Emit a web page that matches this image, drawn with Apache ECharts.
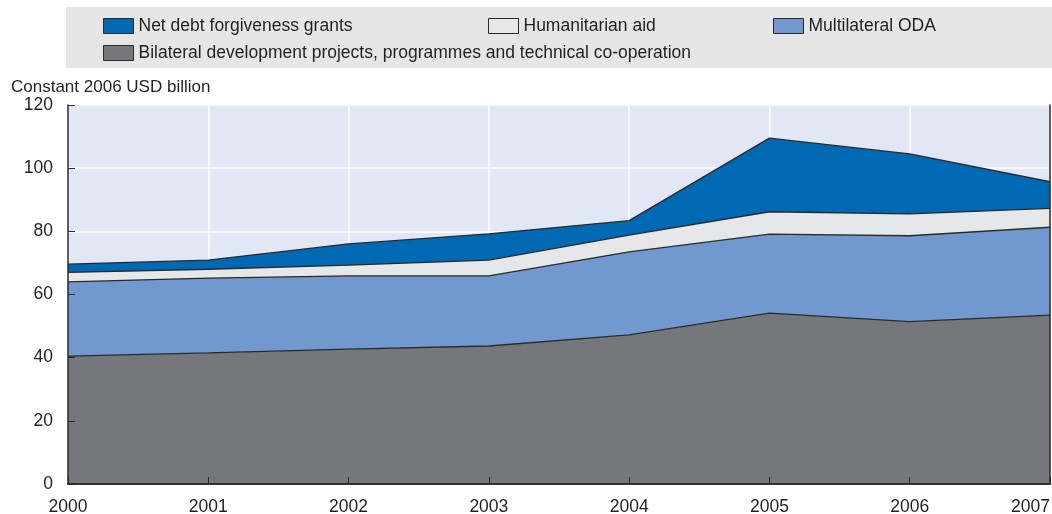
<!DOCTYPE html>
<html>
<head>
<meta charset="utf-8">
<script src="https://cdn.jsdelivr.net/npm/echarts@6/dist/echarts.min.js"></script>
<style>html,body{margin:0;padding:0;background:#fff}#c{width:1052px;height:514px}</style>
</head>
<body>
<div id="c"></div>
<script>
var years = ['2000','2001','2002','2003','2004','2005','2006','2007'];
var bilateral = [40.5, 41.5, 42.7, 43.7, 47.2, 54.1, 51.4, 53.5];
var multilateral = [23.5, 23.7, 23.2, 22.2, 26.3, 25.0, 27.2, 27.8];
var humanitarian = [3.0, 2.8, 3.4, 5.0, 5.3, 7.1, 6.9, 6.0];
var netDebt = [2.6, 2.9, 6.7, 8.3, 4.6, 23.3, 19.0, 8.4];
var yTicks = [0, 20, 40, 60, 80, 100, 120];

var names = {
  debt: 'Net debt forgiveness grants',
  hum: 'Humanitarian aid',
  multi: 'Multilateral ODA',
  bil: 'Bilateral development projects, programmes and technical co-operation'
};
var colors = { debt: '#0069b4', hum: '#e6e7e9', multi: '#7299cf', bil: '#76777b' };
var FONT = 'Liberation Sans, Arial, sans-serif';
var TXT = '#231f20';
var DARK = '#2a2a2a';

function mk(key, data) {
  return {
    name: names[key], type: 'line', stack: 'total', data: data,
    xAxisIndex: 0, yAxisIndex: 0,
    symbol: 'none', smooth: false, z: 3,
    lineStyle: { color: DARK, width: 1.3 },
    itemStyle: { color: colors[key], borderColor: DARK, borderWidth: 1 },
    areaStyle: { color: colors[key], opacity: 1 },
    emphasis: { disabled: true }
  };
}
function lg(key, left, top) {
  return {
    data: [names[key]], left: left, top: top, orient: 'horizontal',
    icon: 'rect', itemWidth: 30, itemHeight: 15, itemGap: 12,
    itemStyle: { borderColor: DARK, borderWidth: 1 },
    textStyle: { fontFamily: FONT, fontSize: 17.5, color: TXT },
    selectedMode: false
  };
}
var yBase = { type: 'value', min: yTicks[0], max: yTicks[yTicks.length - 1], interval: 20 };

var chart = echarts.init(document.getElementById('c'), null, { renderer: 'canvas' });
chart.setOption({
  animation: false,
  backgroundColor: '#ffffff',
  graphic: [{
    type: 'rect', left: 66, top: 7, z: -10,
    shape: { width: 986, height: 61 },
    style: { fill: '#e6e6e6' }
  }],
  title: {
    text: 'Constant 2006 USD billion', left: 6, top: 74,
    textStyle: { fontFamily: FONT, fontSize: 17, fontWeight: 'normal', color: TXT }
  },
  legend: [
    lg('debt', 98, 12),
    lg('hum', 483, 12),
    lg('multi', 768, 12),
    lg('bil', 98, 39)
  ],
  grid: {
    left: 68, right: 2, top: 105, bottom: 30,
    containLabel: false, outerBoundsMode: 'none',
    show: true, backgroundColor: '#e1e7f5', borderWidth: 0
  },
  xAxis: [{
    type: 'category', data: years, boundaryGap: false, z: 1,
    axisLine: { show: false }, axisTick: { show: false }, axisLabel: { show: false },
    splitLine: { show: true, lineStyle: { color: '#ffffff', width: 1.5 } }
  }, {
    type: 'category', data: years, boundaryGap: false, position: 'bottom', z: 10,
    axisLine: { show: true, lineStyle: { color: DARK, width: 1.5 } },
    axisTick: { show: true, inside: true, length: 7, lineStyle: { color: DARK, width: 1 } },
    axisLabel: { fontFamily: FONT, fontSize: 17.5, color: TXT, margin: 14, alignMaxLabel: 'right' },
    splitLine: { show: false }
  }, {
    type: 'category', data: years, boundaryGap: false, position: 'top', z: 10,
    axisLine: { show: true, lineStyle: { color: DARK, width: 1.5 } },
    axisTick: { show: false }, axisLabel: { show: false }, splitLine: { show: false }
  }],
  yAxis: [Object.assign({}, yBase, {
    z: 1,
    axisLine: { show: false }, axisTick: { show: false }, axisLabel: { show: false },
    splitLine: { show: true, lineStyle: { color: '#ffffff', width: 1.5 } }
  }), Object.assign({}, yBase, {
    position: 'left', z: 10,
    axisLine: { show: true, lineStyle: { color: DARK, width: 1.5 } },
    axisTick: { show: true, inside: true, length: 7, lineStyle: { color: DARK, width: 1 } },
    axisLabel: { fontFamily: FONT, fontSize: 17.5, color: TXT, margin: 15 },
    splitLine: { show: false }
  }), Object.assign({}, yBase, {
    position: 'right', z: 10,
    axisLine: { show: true, lineStyle: { color: DARK, width: 1.5 } },
    axisTick: { show: false }, axisLabel: { show: false }, splitLine: { show: false }
  })],
  series: [
    mk('bil', bilateral),
    mk('multi', multilateral),
    mk('hum', humanitarian),
    mk('debt', netDebt)
  ]
});
</script>
</body>
</html>
